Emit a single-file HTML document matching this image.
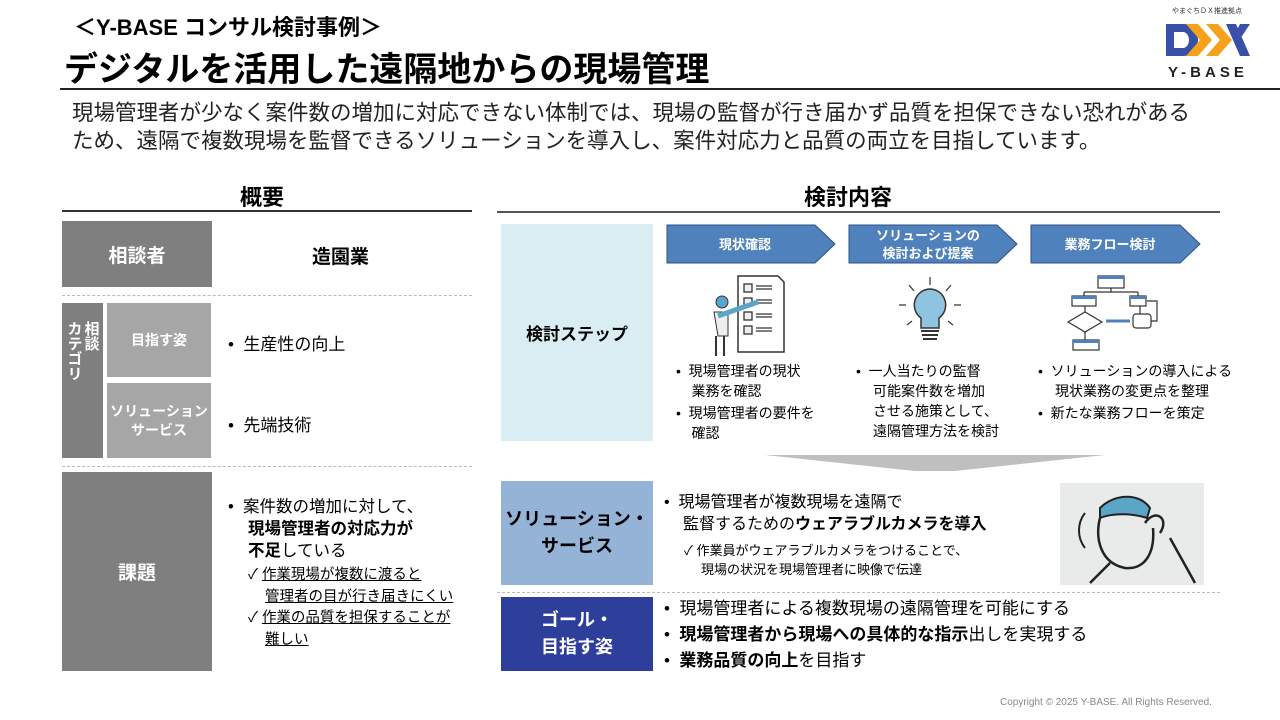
<!DOCTYPE html>
<html><head><meta charset="utf-8"><style>
*{margin:0;padding:0;box-sizing:border-box}
body{width:1280px;height:720px;background:#fff;position:relative;overflow:hidden;font-family:"Liberation Sans","Noto Sans CJK JP",sans-serif;color:#000}
.a{position:absolute}
.box{position:absolute;display:flex;align-items:center;justify-content:center;text-align:center;color:#fff;font-weight:bold}
.dash{position:absolute;height:0;border-top:1.5px dashed #bbb}
.t{position:absolute;white-space:nowrap}
u{text-decoration:underline}
</style></head><body>
<div class="t" style="left:74px;top:10px;font-size:22px;font-weight:bold">＜Y-BASE コンサル検討事例＞</div>
<div class="t" style="left:64px;top:42px;font-size:34px;font-weight:bold">デジタルを活用した遠隔地からの現場管理</div>
<div class="a" style="left:60px;top:88px;width:1220px;height:2px;background:#222"></div>
<!-- logo -->
<div class="t" style="left:1172px;top:6px;font-size:7px;color:#333">やまぐちＤＸ推進拠点</div>
<svg class="a" style="left:1164px;top:20px" width="90" height="40" viewBox="0 0 90 40">
<path d="M2 4h18a14 16 0 0 1 0 32H2z M10 12v16h9a6 8 0 0 0 0-16z" fill="#3a4fa8" fill-rule="evenodd"/>
<polygon points="22,4 34,4 48,20 34,36 22,36 36,20" fill="#f5a11c"/>
<polygon points="42,4 54,4 68,20 54,36 42,36 56,20" fill="#f5a11c"/>
<polygon points="62,4 72,4 86,36 76,36" fill="#3a4fa8"/>
<polygon points="86,4 76,4 70,16 74,22" fill="#3a4fa8"/>
</svg>
<div class="t" style="left:1168px;top:64px;font-size:15px;font-weight:bold;letter-spacing:4px;color:#222">Y-BASE</div>
<div class="t" style="left:72px;top:99px;font-size:21.5px;line-height:28px;color:#222">現場管理者が少なく案件数の増加に対応できない体制では、現場の監督が行き届かず品質を担保できない恐れがある<br>ため、遠隔で複数現場を監督できるソリューションを導入し、案件対応力と品質の両立を目指しています。</div>
<!-- headings -->
<div class="t" style="left:240px;top:180px;font-size:22px;font-weight:bold">概要</div>
<div class="a" style="left:62px;top:210px;width:410px;height:2px;background:#333"></div>
<div class="t" style="left:804px;top:180px;font-size:22px;font-weight:bold">検討内容</div>
<div class="a" style="left:497px;top:211px;width:723px;height:2px;background:#555"></div>
<!-- left -->
<div class="box" style="left:62px;top:221px;width:150px;height:66px;background:#7f7f7f;font-size:19px">相談者</div>
<div class="t" style="left:312px;top:242px;font-size:19px;font-weight:bold">造園業</div>
<div class="dash" style="left:62px;top:295px;width:410px"></div>
<div class="box" style="left:62px;top:303px;width:41px;height:155px;background:#7f7f7f;font-size:15px;line-height:17px"><div style="writing-mode:vertical-rl;text-align:left;height:120px">相談<br>カテゴリ</div></div>
<div class="box" style="left:107px;top:303px;width:104px;height:74px;background:#a6a6a6;font-size:14px">目指す姿</div>
<div class="box" style="left:107px;top:383px;width:104px;height:75px;background:#a6a6a6;font-size:14px;line-height:19px">ソリューション<br>サービス</div>
<div class="t" style="left:228px;top:330px;font-size:17px">•&nbsp; 生産性の向上</div>
<div class="t" style="left:228px;top:411px;font-size:17px">•&nbsp; 先端技術</div>
<div class="dash" style="left:62px;top:466px;width:410px"></div>
<div class="box" style="left:62px;top:472px;width:150px;height:199px;background:#7f7f7f;font-size:19px">課題</div>
<div class="t" style="left:228px;top:496px;font-size:16.5px;line-height:22px">•&nbsp; 案件数の増加に対して、<br><span style="padding-left:20px"></span><b>現場管理者の対応力が</b><br><span style="padding-left:20px"></span><b>不足</b>している</div>
<div class="t" style="left:248px;top:565px;font-size:14.5px;line-height:21.5px">✓ <u>作業現場が複数に渡ると</u><br><span style="padding-left:17px"></span><u>管理者の目が行き届きにくい</u><br>✓ <u>作業の品質を担保することが</u><br><span style="padding-left:17px"></span><u>難しい</u></div>
<!-- right -->
<div class="box" style="left:501px;top:224px;width:152px;height:217px;background:#daedf3;color:#000;font-size:17px">検討ステップ</div>
<svg class="a" style="left:660px;top:222px" width="560" height="46">
<g fill="#4f81bd" stroke="#2f5080" stroke-width="1">
<polygon points="7,3 155,3 175,22 155,41 7,41"/>
<polygon points="189,3 337,3 357,22 337,41 189,41"/>
<polygon points="371,3 520,3 540,22 520,41 371,41"/>
</g>
<g fill="#fff" font-family="Liberation Sans,Noto Sans CJK JP,sans-serif" font-weight="bold" font-size="13" text-anchor="middle">
<text x="85" y="27">現状確認</text>
<text x="268" y="18">ソリューションの</text>
<text x="268" y="36">検討および提案</text>
<text x="450" y="27">業務フロー検討</text>
</g>
</svg>
<!-- icons -->
<svg class="a" style="left:700px;top:272px" width="90" height="88" viewBox="0 0 90 88">
<path d="M38 4h40l6 6v70H38z" fill="#fff" stroke="#333" stroke-width="1.5"/>
<g stroke="#333" stroke-width="1.3" fill="#eee"><rect x="44" y="12" width="8" height="8"/><rect x="44" y="26" width="8" height="8"/><rect x="44" y="40" width="8" height="8"/><rect x="44" y="54" width="8" height="8"/></g>
<g stroke="#333" stroke-width="1.3"><path d="M56 14h16M56 17h16M56 28h16M56 31h16M56 42h16M56 45h16M56 56h16M56 59h16"/></g>
<circle cx="22" cy="30" r="6" fill="#5ba6c8" stroke="#333"/>
<path d="M14 40h14v24h-10z" fill="#eee" stroke="#333"/>
<path d="M16 64v20M24 64v20" stroke="#333" stroke-width="2"/>
<path d="M18 44l40-14" stroke="#5ba6c8" stroke-width="5"/>
</svg>
<svg class="a" style="left:895px;top:275px" width="70" height="80" viewBox="0 0 70 80">
<g stroke="#333" stroke-width="1.2"><path d="M35 2v8M14 10l5 6M56 10l-5 6M4 30h7M59 30h7M12 50l5-4M58 50l-5-4"/></g>
<path d="M35 14a16 16 0 0 0-9 29v10h18V43a16 16 0 0 0-9-29z" fill="#8fc4e0" stroke="#333" stroke-width="1.5"/>
<path d="M26 56h18M27 60h16M28 64h14" stroke="#333" stroke-width="2"/>
</svg>
<svg class="a" style="left:1065px;top:274px" width="110" height="80" viewBox="0 0 110 80">
<g fill="#fff" stroke="#333" stroke-width="1.2">
<rect x="33" y="2" width="26" height="12"/><rect x="7" y="22" width="24" height="10"/><rect x="65" y="22" width="16" height="10"/>
<polygon points="3,48 20,38 37,48 20,58"/><rect x="68" y="40" width="18" height="14" rx="3"/><rect x="8" y="66" width="26" height="10"/>
<path d="M46 14v4M19 18h54M19 18v4M73 18v4M20 32v6M20 58v8M75 32v8M86 47h6v-20h-10" fill="none"/></g>
<g fill="#4f81bd"><rect x="33" y="2" width="26" height="3"/><rect x="7" y="22" width="24" height="3"/><rect x="65" y="22" width="16" height="3"/><rect x="8" y="66" width="26" height="3"/><path d="M41 47h24" stroke="#4f81bd" stroke-width="3"/></g>
</svg>
<div class="t" style="left:676px;top:361px;font-size:14px;line-height:20px">•&nbsp; 現場管理者の現状<br>&nbsp;&nbsp;&nbsp; 業務を確認</div>
<div class="t" style="left:676px;top:403px;font-size:14px;line-height:20px">•&nbsp; 現場管理者の要件を<br>&nbsp;&nbsp;&nbsp; 確認</div>
<div class="t" style="left:856px;top:361px;font-size:14px;line-height:20px">•&nbsp; 一人当たりの監督<br><span style="padding-left:17px"></span>可能案件数を増加<br><span style="padding-left:17px"></span>させる施策として、<br><span style="padding-left:17px"></span>遠隔管理方法を検討</div>
<div class="t" style="left:1038px;top:361px;font-size:14px;line-height:20px">•&nbsp; ソリューションの導入による<br><span style="padding-left:17px"></span>現状業務の変更点を整理</div>
<div class="t" style="left:1038px;top:403px;font-size:14px;line-height:20px">•&nbsp; 新たな業務フローを策定</div>
<svg class="a" style="left:765px;top:453px" width="340" height="20"><polygon points="0,2 340,2 190,18 150,18" fill="#bfbfbf"/></svg>
<div class="box" style="left:501px;top:481px;width:152px;height:104px;background:#95b3d7;color:#000;font-size:18px;line-height:27px">ソリューション・<br>サービス</div>
<div class="t" style="left:664px;top:492px;font-size:16px;line-height:22px">•&nbsp; 現場管理者が複数現場を遠隔で<br><span style="padding-left:19px"></span>監督するための<b>ウェアラブルカメラを導入</b></div>
<div class="t" style="left:684px;top:541px;font-size:13px;line-height:19px">✓ 作業員がウェアラブルカメラをつけることで、<br><span style="padding-left:17px"></span>現場の状況を現場管理者に映像で伝達</div>
<svg class="a" style="left:1060px;top:483px" width="144" height="102" viewBox="0 0 144 102">
<rect width="144" height="102" fill="#e9eaea"/>
<path d="M40 25c15-15 40-15 50 0l-3 10c-15-5-35-5-47 0z" fill="#5ba6c8" stroke="#222" stroke-width="2"/>
<path d="M40 35c-5 20 0 45 25 50 20 2 30-15 28-40" fill="none" stroke="#222" stroke-width="2.5"/>
<path d="M85 40c10-15 25-5 15 10" fill="none" stroke="#222" stroke-width="2.5"/>
<path d="M30 100l20-20M110 55l25 45" stroke="#222" stroke-width="2.5"/>
<path d="M25 30c-8 10-8 25 0 35" fill="none" stroke="#222" stroke-width="2"/>
</svg>
<div class="dash" style="left:497px;top:592px;width:723px"></div>
<div class="box" style="left:501px;top:597px;width:152px;height:74px;background:#2e3f9b;font-size:18px;line-height:27px">ゴール・<br>目指す姿</div>
<div class="t" style="left:664px;top:596px;font-size:17px;line-height:26px">•&nbsp; 現場管理者による複数現場の遠隔管理を可能にする<br>•&nbsp; <b>現場管理者から現場への具体的な指示</b>出しを実現する<br>•&nbsp; <b>業務品質の向上</b>を目指す</div>
<div class="t" style="left:1000px;top:697px;font-size:10px;color:#888">Copyright © 2025 Y-BASE. All Rights Reserved.</div>
</body></html>
